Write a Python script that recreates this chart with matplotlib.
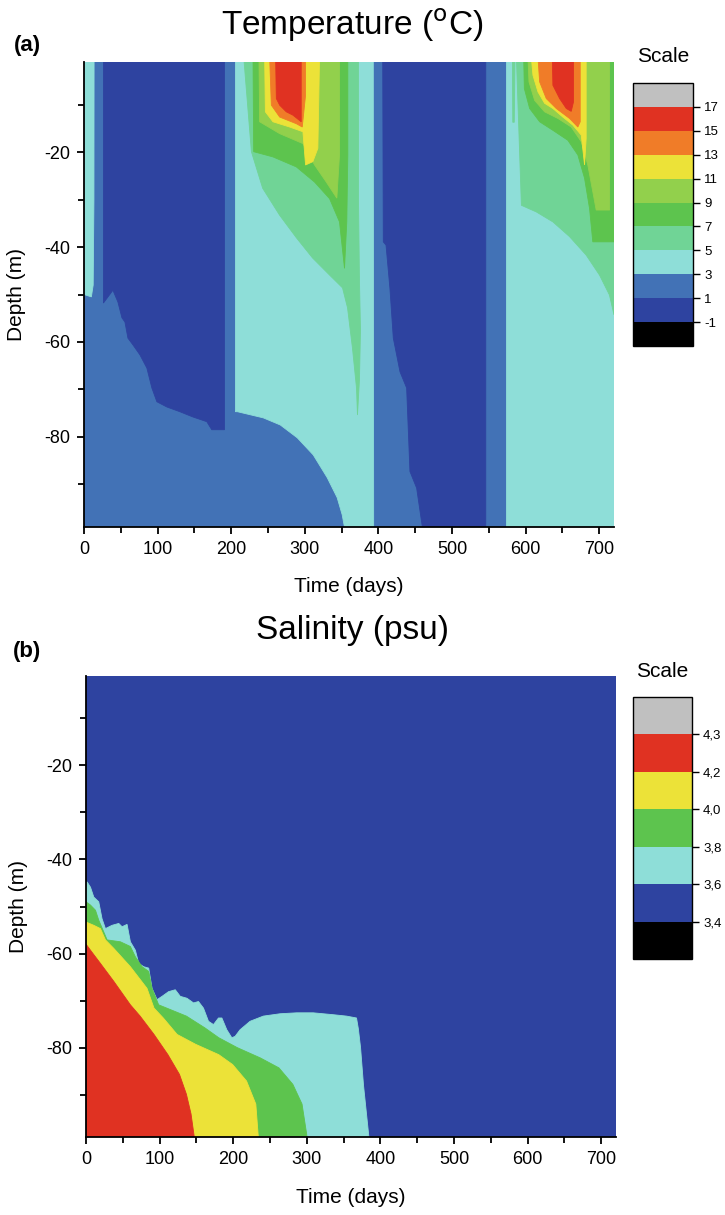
import matplotlib
matplotlib.use("Agg")
import matplotlib.pyplot as plt
from matplotlib.colors import ListedColormap, BoundaryNorm
from matplotlib.cm import ScalarMappable
from matplotlib.ticker import MultipleLocator

plt.rcParams['font.family'] = ['Liberation Sans', 'DejaVu Sans']
plt.rcParams['axes.unicode_minus'] = False

# ---------------- colours ----------------
C_DKBLUE = "#2E43A0"   # -1..1  / 3.4..3.6
C_BLUE   = "#4272B6"   # 1..3
C_CYAN   = "#8EDED8"   # 3..5   / 3.6..3.8
C_MINT   = "#70D496"   # 5..7
C_GREEN  = "#5DC44E"   # 7..9   / 3.8..4.0
C_LGREEN = "#92D04C"   # 9..11
C_YELLOW = "#ECE238"   # 11..13 / 4.0..4.2
C_ORANGE = "#F07C28"   # 13..15
C_RED    = "#E03222"   # 15..17 / 4.2..4.3
C_GRAY   = "#C0C0C0"

# ---------------- scale data ----------------
temp_levels = [-1, 1, 3, 5, 7, 9, 11, 13, 15, 17]
temp_colors = [C_DKBLUE, C_BLUE, C_CYAN, C_MINT, C_GREEN, C_LGREEN, C_YELLOW, C_ORANGE, C_RED]
sal_levels = [3.4, 3.6, 3.8, 4.0, 4.2, 4.3]
sal_labels = ["3,4", "3,6", "3,8", "4,0", "4,2", "4,3"]
sal_colors = [C_DKBLUE, C_CYAN, C_GREEN, C_YELLOW, C_RED]

# ---------------- (a) temperature regions (day, depth) ----------------
# background class of panel (a): 1..3 C
cyan_early_day = [0, 13.7, 13.5, 12.5, 10, 0]
cyan_early_dep = [0, 0, -30, -48, -50.5, -50]

cyan_s1_day = [205.7, 205.7, 208.4, 243.6, 266.7, 289.7, 311.4, 330.4, 343.9, 350.7, 355, 393.5, 393]
cyan_s1_dep = [0, -74.7, -74.7, -76.0, -77.5, -80.2, -83.8, -88.6, -92.8, -96.4, -100, -100, 0]

cyan_s2_day = [572.9, 720, 720, 572.9]
cyan_s2_dep = [0, 0, -100, -100]

dk_w1_day = [26.4, 26.4, 39.3, 46.1, 51.5, 55.6, 59.7, 66.4, 75.9, 85.4, 92.2, 99.0,
             112.5, 130.2, 147.8, 166.8, 173.6, 190.8, 190.8]
dk_w1_dep = [0, -51.8, -49.1, -51.6, -54.9, -55.8, -59.2, -60.6, -62.7, -65.5, -69.7, -72.6,
             -73.7, -74.7, -75.8, -76.8, -78.5, -78.5, 0]

dk_w2_day = [405.8, 406.6, 410.3, 415.6, 420.2, 429.3, 438.3, 442.8, 451.9, 460.6, 545.8, 545.8]
dk_w2_dep = [0, -38.9, -39.6, -48.7, -59.2, -66.3, -69.7, -87.3, -90.8, -100, -100, 0]

mint_s1_day = [217, 227.4, 242.7, 265.8, 288.8, 310.5, 333.6, 351.2, 358.0, 364.7, 370.2,
               371.5, 374.2, 375.6, 374.2, 372.9, 372.8]
mint_s1_dep = [0, -19.9, -27.6, -33.3, -38.1, -42.3, -45.9, -48.6, -52.8, -61.3, -69.7,
               -75.4, -68, -57.5, -47, -30, 0]

green_s1_day = [229.6, 230.5, 256.7, 288.4, 313.2, 333.6, 347.1, 353.9, 357.0, 358.4, 358.4]
green_s1_dep = [0, -19.9, -21.0, -23.1, -26.3, -29.8, -34.7, -44.5, -34.7, -20.6, 0]

lgreen_s1_day = [237.7, 238.6, 265.8, 297.4, 313.2, 329.1, 343.5, 347.1, 347.1]
lgreen_s1_dep = [0, -13.6, -16.1, -18.2, -22.7, -26.3, -29.7, -20.6, 0]

yellow_s1_day = [245.4, 246.4, 256.7, 279.3, 297.4, 301.0, 310.9, 317.7, 320]
yellow_s1_dep = [0, -11.5, -13.6, -14.7, -15.7, -22.7, -22.0, -19.2, 0]

orange_s1_day = [252.2, 254.5, 265.8, 288.4, 296.5, 301.0, 301.0]
orange_s1_dep = [0, -10.1, -12.6, -14.0, -14.7, -8.0, 0]

red_s1_day = [260.3, 261.3, 265.8, 274.8, 283.8, 295.1, 295.1]
red_s1_dep = [0, -8.7, -10.1, -11.5, -12.2, -13.6, 0]

mint_sliver_s2_day = [582.0, 582.5, 584.5, 585.5]
mint_sliver_s2_dep = [0, -13.7, -13.7, 0]

mint_s2_day = [587.4, 594.2, 614.5, 637.0, 659.6, 682.2, 700.3, 713.8, 720, 720]
mint_s2_dep = [0, -31.2, -32.6, -34.7, -37.8, -41.7, -45.9, -50.1, -54.3, 0]

green_s2_day = [597.3, 598.2, 605.4, 619.0, 637.0, 657.3, 670.9, 680.0, 686.8, 691.2, 720, 720]
green_s2_dep = [0, -6.6, -10.8, -13.6, -15.4, -17.5, -20.6, -25.5, -31.9, -38.9, -38.9, 0]

lgreen_s2_day = [603.1, 604.5, 612.2, 625.7, 643.8, 661.9, 675.5, 684.4, 692.1, 695.8, 714, 714]
lgreen_s2_dep = [0, -5.2, -9.1, -11.5, -12.9, -14.7, -17.8, -22.7, -29.1, -32.2, -32.2, 0]

yellow_s2_day = [607.7, 609.9, 616.7, 625.7, 637.0, 650.5, 664.1, 675.5, 680.0, 682.2, 682.2]
yellow_s2_dep = [0, -3.8, -7.3, -9.7, -10.8, -12.6, -14.3, -16.4, -22.7, -17.1, 0]

orange_s2_day = [616.7, 619.0, 628.0, 641.6, 659.6, 670.9, 674.1, 674.1]
orange_s2_dep = [0, -5.2, -8.7, -10.8, -12.9, -14.7, -13.6, 0]

red_s2_day = [636.2, 637.0, 646.1, 655.2, 661.9, 665.0, 665.0]
red_s2_dep = [0, -5.9, -8.7, -10.8, -11.4, -9.4, 0]

# ---------------- (b) salinity regions (day, depth) ----------------
sal_cyan_day = [0, 1.6, 6.1, 10.6, 17.3, 21.8, 26.4, 35.4, 44.5, 49.0, 55.8, 60.3, 67.1, 71.6,
                78.4, 85.2, 89.7, 96.5, 103.3, 112.2, 121.3, 128.1, 137.1, 146.1, 152.8, 159.6,
                166.4, 173.2, 180.0, 184.6, 191.3, 198.1, 202.6, 209.3, 222.9, 240.9, 263.6,
                286.2, 308.7, 335.8, 353.9, 367.5, 370, 373, 377, 381, 385, 0]
sal_cyan_dep = [-44.8, -44.8, -45.9, -48.0, -49.0, -52.6, -54.7, -54.0, -53.6, -54.3, -53.8,
                -57.5, -59.3, -62.1, -62.8, -63.1, -67.4, -69.8, -69.1, -68.1, -67.7, -69.1,
                -69.5, -70.5, -70.2, -71.6, -74.4, -75.1, -73.7, -73.7, -76.2, -77.9, -77.6,
                -76.2, -74.4, -73.3, -72.8, -72.6, -72.6, -73.0, -73.3, -73.7, -76, -80, -88,
                -94, -100, -100]

sal_green_day = [0, 6.1, 12.9, 17.3, 24.1, 28.7, 46.7, 60.3, 67.1, 76.2, 85.2, 89.7, 98.7,
                 136.4, 161.5, 180.4, 205.5, 237.0, 262.1, 281.0, 293.5, 299.8, 301, 0]
sal_green_dep = [-49.0, -49.7, -50.8, -52.9, -55.4, -57.1, -57.5, -58.5, -60.7, -62.8, -63.8,
                 -67.4, -70.9, -73.3, -75.8, -77.9, -80.0, -82.2, -84.3, -87.8, -92.0, -98.4,
                 -100, -100]

sal_yellow_day = [0, 10.6, 19.6, 26.4, 37.7, 60.3, 82.9, 92.4, 105, 123.8, 149.0, 180.4,
                  199.2, 218.1, 230.7, 233.8, 235, 0]
sal_yellow_dep = [-53.3, -54.0, -54.7, -57.1, -58.9, -62.8, -67.4, -71.6, -73.7, -77.2, -79.3,
                  -81.5, -83.6, -87.1, -92.0, -98.4, -100, -100]

sal_red_day = [0, 6.1, 19.6, 37.7, 60.3, 73.5, 92.4, 111.3, 127.0, 136.4, 142.7, 148, 0]
sal_red_dep = [-58.0, -59.3, -62.1, -65.9, -70.9, -73.3, -77.2, -81.5, -85.7, -89.9, -94.1,
               -100, -100]

# ---------------- figure ----------------
W, H = 725, 1215
fig = plt.figure(figsize=(W / 100, H / 100), dpi=100)

def px_axes(l, t, r, b):
    return fig.add_axes([l / W, 1 - b / H, (r - l) / W, (b - t) / H])

axA = px_axes(84, 62, 614, 527)
axB = px_axes(86, 676, 616, 1137)

def style(ax, bg, xlab_y):
    ax.set_facecolor(bg)
    ax.set_xlim(0, 720)
    ax.set_ylim(-99, -1)
    ax.xaxis.set_major_locator(MultipleLocator(100))
    ax.xaxis.set_minor_locator(MultipleLocator(50))
    ax.set_yticks([-20, -40, -60, -80])
    ax.yaxis.set_minor_locator(MultipleLocator(10))
    for s in ("top", "right"):
        ax.spines[s].set_visible(False)
    for s in ("left", "bottom"):
        ax.spines[s].set_linewidth(1.3)
        ax.spines[s].set_zorder(20)
    ax.tick_params(which="major", direction="out", length=5, width=1.3, labelsize=13, pad=5)
    ax.tick_params(which="minor", direction="out", length=4.5, width=1.3)
    ax.set_xlabel("Time (days)", fontsize=15)
    ax.set_ylabel("Depth (m)", fontsize=15)
    ax.xaxis.set_label_coords(0.5, xlab_y)
    ax.yaxis.set_label_coords(-0.11, 0.5)

def paint(ax, d, z, c, order):
    ax.fill(d, z, color=c, lw=0.6, ec=c, zorder=order)

style(axA, C_BLUE, -0.107)
regionsA = [
    (cyan_early_day, cyan_early_dep, C_CYAN),
    (cyan_s1_day, cyan_s1_dep, C_CYAN),
    (cyan_s2_day, cyan_s2_dep, C_CYAN),
    (dk_w1_day, dk_w1_dep, C_DKBLUE),
    (dk_w2_day, dk_w2_dep, C_DKBLUE),
    (mint_sliver_s2_day, mint_sliver_s2_dep, C_MINT),
    (mint_s1_day, mint_s1_dep, C_MINT),
    (mint_s2_day, mint_s2_dep, C_MINT),
    (green_s1_day, green_s1_dep, C_GREEN),
    (green_s2_day, green_s2_dep, C_GREEN),
    (lgreen_s1_day, lgreen_s1_dep, C_LGREEN),
    (lgreen_s2_day, lgreen_s2_dep, C_LGREEN),
    (yellow_s1_day, yellow_s1_dep, C_YELLOW),
    (yellow_s2_day, yellow_s2_dep, C_YELLOW),
    (orange_s1_day, orange_s1_dep, C_ORANGE),
    (orange_s2_day, orange_s2_dep, C_ORANGE),
    (red_s1_day, red_s1_dep, C_RED),
    (red_s2_day, red_s2_dep, C_RED),
]
for i, (d, z, c) in enumerate(regionsA):
    paint(axA, d, z, c, 2 + i)

style(axB, C_DKBLUE, -0.11)
regionsB = [
    (sal_cyan_day, sal_cyan_dep, C_CYAN),
    (sal_green_day, sal_green_dep, C_GREEN),
    (sal_yellow_day, sal_yellow_dep, C_YELLOW),
    (sal_red_day, sal_red_dep, C_RED),
]
for i, (d, z, c) in enumerate(regionsB):
    paint(axB, d, z, c, 2 + i)

# titles and panel letters
fig.text(352 / W, 1 - 25 / H, r"Temperature ($^{\rm o}$C)", fontsize=24, ha="center", va="center")
fig.text(27 / W, 1 - 46 / H, "(a)", fontsize=16, fontweight="bold", ha="center", va="center")
fig.text(352 / W, 1 - 630 / H, "Salinity (psu)", fontsize=24, ha="center", va="center")
fig.text(27 / W, 1 - 652 / H, "(b)", fontsize=16, fontweight="bold", ha="center", va="center")

# colour scales
def scale_bar(l, t, r, b, levels, colors, labels, title_y):
    cax = px_axes(l, t, r, b)
    cmap = ListedColormap(colors)
    cmap.set_under("black")
    cmap.set_over(C_GRAY)
    norm = BoundaryNorm(levels, cmap.N)
    cb = fig.colorbar(ScalarMappable(norm=norm, cmap=cmap), cax=cax, extend="both",
                      extendrect=True, extendfrac=1.0 / len(colors), ticks=levels)
    cb.ax.set_yticklabels(labels)
    cb.ax.tick_params(direction="out", length=5, width=1.0, labelsize=9.5, pad=3)
    cb.ax.minorticks_off()
    cb.outline.set_linewidth(1.0)
    fig.text((l + r) / 2 / W, 1 - title_y / H, "Scale", fontsize=15, ha="center", va="center")
    return cb

scale_bar(633, 83, 693, 346, temp_levels, temp_colors, [str(v) for v in temp_levels], 57)
scale_bar(633, 697, 692, 959, sal_levels, sal_colors, sal_labels, 672)

fig.savefig("out.png", dpi=100)
